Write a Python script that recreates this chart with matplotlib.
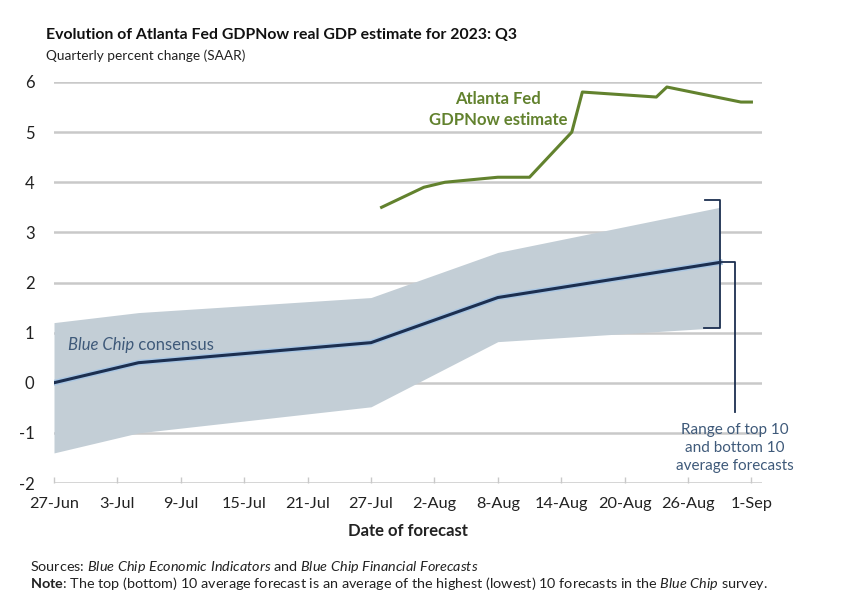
import matplotlib
matplotlib.use("Agg")
import matplotlib.pyplot as plt
import matplotlib.patheffects as pe

# ---- data (x = days since 27-Jun-2023) ----
tick_days = [0, 6, 12, 18, 24, 30, 36, 42, 48, 54, 60, 66]
tick_labels = ["27-Jun", "3-Jul", "9-Jul", "15-Jul", "21-Jul", "27-Jul",
               "2-Aug", "8-Aug", "14-Aug", "20-Aug", "26-Aug", "1-Sep"]
y_ticks = [-2, -1, 0, 1, 2, 3, 4, 5, 6]

bc_days = [0, 8, 30, 42, 63]
bc_consensus = [0.0, 0.4, 0.8, 1.7, 2.4]
bc_top10 = [1.2, 1.4, 1.7, 2.6, 3.5]
bc_bottom10 = [-1.4, -1.0, -0.48, 0.82, 1.1]

gdpnow_days = [31, 35, 37, 42, 45, 49, 50, 57, 58, 65, 66]
gdpnow_vals = [3.5, 3.9, 4.0, 4.1, 4.1, 5.0, 5.8, 5.7, 5.9, 5.6, 5.6]

# ---- fonts ----
FONT = "Lato"
plt.rcParams["font.family"] = [FONT, "DejaVu Sans"]
plt.rcParams["mathtext.fontset"] = "custom"
plt.rcParams["mathtext.rm"] = FONT
plt.rcParams["mathtext.it"] = FONT + ":italic"
plt.rcParams["mathtext.bf"] = FONT + ":bold"

fig = plt.figure(figsize=(8.48, 5.95), dpi=100)
ax = fig.add_axes([54/848, 1-483/595, (762-54)/848, (483-82)/595])

GRID = "#c9c9c9"
NAVY = "#1c2f50"
GREEN = "#62822e"
BAND = "#c3ced6"
SLATE = "#3f5a7a"

ax.set_xlim(0, 67)
ax.set_ylim(-2, 6)
for y in y_ticks:
    ax.axhline(y, color=GRID, lw=1.8, zorder=1)

ax.fill_between(bc_days, bc_bottom10, bc_top10, color=BAND, lw=0, zorder=2)
ax.plot(bc_days, bc_consensus, color=NAVY, lw=2.2, zorder=4,
        path_effects=[pe.Stroke(linewidth=4.2, foreground="#a9c6e3"), pe.Normal()])
ax.plot(gdpnow_days, gdpnow_vals, color=GREEN, lw=2.2, zorder=4)

for s in ax.spines.values():
    s.set_visible(False)
ax.set_yticks(y_ticks)
ax.set_yticklabels([str(v) for v in y_ticks])
ax.set_xticks(tick_days)
ax.set_xticklabels(tick_labels)
ax.tick_params(axis="y", length=0, labelsize=12, colors="#222222", pad=14)
ax.tick_params(axis="x", length=4, direction="in", color=GRID, labelsize=11.7,
               labelcolor="#222222", pad=10, width=1)
ax.set_xlabel("Date of forecast", fontsize=12, fontweight="bold", color="#222222", labelpad=9)

# labels
ax.text(42.0, 5.45, "Atlanta Fed\nGDPNow estimate", color=GREEN, fontsize=12,
        fontweight="bold", ha="center", va="center", linespacing=1.35)
t1 = ax.text(1.3, 0.6, "Blue Chip", color=SLATE, fontsize=12, style="italic",
             ha="left", va="bottom")
ax.annotate(" consensus", xy=(1, 0), xycoords=t1, color=SLATE, fontsize=12,
            ha="left", va="bottom")

# brackets
xe = bc_days[-1]
ax.plot([xe - 1.4, xe, xe, xe - 1.5], [3.65, 3.65, bc_bottom10[-1], bc_bottom10[-1]],
        color=NAVY, lw=1.3, clip_on=False, zorder=5)
ax.plot([xe, xe + 1.45, xe + 1.45], [bc_consensus[-1], bc_consensus[-1], -0.58],
        color=NAVY, lw=1.3, clip_on=False, zorder=5)
ax.text(xe + 1.45, -0.8, "Range of top 10\nand bottom 10\naverage forecasts",
        color=SLATE, fontsize=11, ha="center", va="top", linespacing=1.35)

# titles / notes
fig.text(46/848, 1-35/595, "Evolution of Atlanta Fed GDPNow real GDP estimate for 2023: Q3",
         fontsize=11.4, fontweight="bold", color="#111111", va="center", ha="left")
fig.text(46/848, 1-56/595, "Quarterly percent change (SAAR)", fontsize=9.8,
         color="#222222", va="center", ha="left")
fig.text(30/848, 1-567/595,
         r"Sources: $\it{Blue\ Chip\ Economic\ Indicators}$ and $\it{Blue\ Chip\ Financial\ Forecasts}$",
         fontsize=10.4, color="#222222", va="center", ha="left")
fig.text(30/848, 1-584/595,
         r"$\bf{Note}$: The top (bottom) 10 average forecast is an average of the highest (lowest) 10 forecasts in the $\it{Blue\ Chip}$ survey.",
         fontsize=10.4, color="#222222", va="center", ha="left")

fig.savefig("out.png", dpi=100, facecolor="white")
